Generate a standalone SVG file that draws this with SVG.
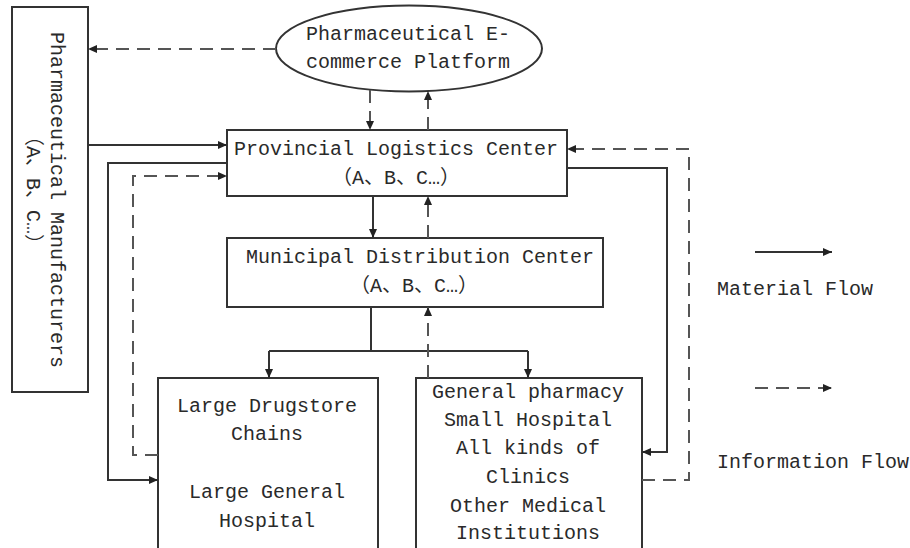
<svg xmlns="http://www.w3.org/2000/svg" width="910" height="548" viewBox="0 0 910 548">
<style>
.box{fill:#fff;stroke:#333;stroke-width:2}
.t{font-family:"Liberation Mono","Noto Sans CJK SC",monospace;font-size:20px;fill:#2a2a2a;text-anchor:middle}
.l{font-family:"Liberation Mono","Noto Sans CJK SC",monospace;font-size:20px;fill:#2a2a2a}
.s{fill:none;stroke:#333;stroke-width:2}
.d{fill:none;stroke:#555;stroke-width:2;stroke-dasharray:13 8}
</style>
<defs>
<marker id="a" viewBox="0 0 9 8" refX="9" refY="4" markerWidth="9" markerHeight="8" markerUnits="userSpaceOnUse" orient="auto">
<path d="M0,0 L9,4 L0,8 z" fill="#222"/>
</marker>
</defs>
<rect width="910" height="548" fill="#fff"/>

<g id="manufacturers">
<rect class="box" x="12" y="7" width="76" height="385"/>
<text class="t" transform="translate(51,200) rotate(90)">Pharmaceutical Manufacturers</text>
<text class="t" transform="translate(27,190) rotate(90)">（A、B、C…）</text>
</g>

<g id="ecommerce">
<ellipse cx="409" cy="48.5" rx="133" ry="43" fill="#fff" stroke="#333" stroke-width="2"/>
<text class="t" x="408" y="40">Pharmaceutical E-</text>
<text class="t" x="408" y="68">commerce Platform</text>
</g>

<g id="provincial">
<rect class="box" x="227" y="130" width="340" height="66"/>
<text class="t" x="396" y="155">Provincial Logistics Center</text>
<text class="t" x="396" y="184">（A、B、C…）</text>
</g>

<g id="municipal">
<rect class="box" x="227" y="238" width="376" height="69"/>
<text class="t" x="420" y="263">Municipal Distribution Center</text>
<text class="t" x="414" y="292">（A、B、C…）</text>
</g>

<g id="large">
<rect class="box" x="158" y="378" width="220" height="185"/>
<text class="t" x="267" y="412">Large Drugstore</text>
<text class="t" x="267" y="440">Chains</text>
<text class="t" x="267" y="498">Large General</text>
<text class="t" x="267" y="527">Hospital</text>
</g>

<g id="general">
<rect class="box" x="416" y="378" width="226" height="185"/>
<text class="t" x="528" y="398">General pharmacy</text>
<text class="t" x="528" y="426">Small Hospital</text>
<text class="t" x="528" y="454">All kinds of</text>
<text class="t" x="528" y="483">Clinics</text>
<text class="t" x="528" y="512">Other Medical</text>
<text class="t" x="528" y="539">Institutions</text>
</g>

<g id="connectors">
<path class="d" d="M276,49 L88,49" marker-end="url(#a)"/>
<path class="d" d="M370,90 L370,130" marker-end="url(#a)"/>
<path class="d" d="M428,130 L428,91" marker-end="url(#a)"/>
<path class="s" d="M88,145 L227,145" marker-end="url(#a)"/>
<path class="s" d="M227,163 L108,163 L108,480 L158,480" marker-end="url(#a)"/>
<path class="d" d="M158,455 L133,455 L133,176 L227,176" marker-end="url(#a)"/>
<path class="s" d="M373,196 L373,238" marker-end="url(#a)"/>
<path class="d" d="M428,238 L428,196" marker-end="url(#a)"/>
<path class="s" d="M371,307 L371,351"/>
<path class="s" d="M269,351 L528,351"/>
<path class="s" d="M269,351 L269,378" marker-end="url(#a)"/>
<path class="s" d="M528,351 L528,378" marker-end="url(#a)"/>
<path class="d" d="M428,378 L428,307" marker-end="url(#a)"/>
<path class="s" d="M567,168 L667,168 L667,452 L642,452" marker-end="url(#a)"/>
<path class="d" d="M642,480 L689,480 L689,149 L567,149" marker-end="url(#a)"/>
</g>

<g id="legend">
<path class="s" d="M755,252 L832,252" marker-end="url(#a)"/>
<text class="l" x="717" y="295">Material Flow</text>
<path class="d" d="M755,388 L832,388" marker-end="url(#a)"/>
<text class="l" x="717" y="468">Information Flow</text>
</g>
</svg>
